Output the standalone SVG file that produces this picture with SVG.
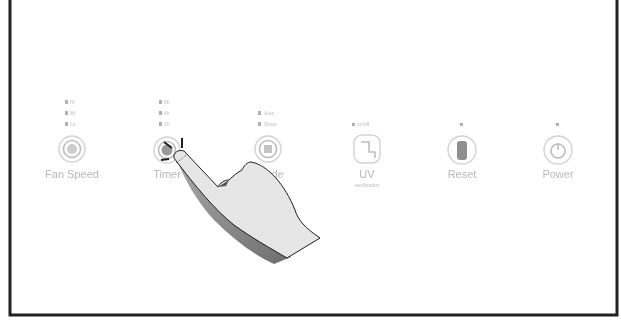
<svg xmlns="http://www.w3.org/2000/svg" width="621" height="320" viewBox="0 0 621 320">
  <defs>
    <style>
      .lbl{font-family:"Liberation Sans",Arial,sans-serif;font-size:11px;fill:#b8b8b8;text-anchor:middle}
      .tiny{font-family:"Liberation Sans",Arial,sans-serif;font-size:5px;fill:#bdbdbd}
      .ring{fill:none;stroke:#d2d2d2;stroke-width:1.4}
      .inner{fill:none;stroke:#bdbdbd;stroke-width:1.6}
      .dot{fill:#b0b0b0}
      .tick{stroke:#1e1e1e;stroke-width:2;stroke-linecap:butt}
    </style>
    <filter id="soft" x="-5%" y="-5%" width="110%" height="110%">
      <feGaussianBlur stdDeviation="0.65"/>
    </filter>
    <linearGradient id="shade" x1="0" y1="0" x2="1" y2="1">
      <stop offset="0" stop-color="#a8a8a8"/>
      <stop offset="1" stop-color="#6e6e6e"/>
    </linearGradient>
  </defs>

  <rect width="621" height="320" fill="#fff"/>
  <!-- outer frame, open at the top -->
  <path d="M10 0V315H617V0" fill="none" stroke="#222" stroke-width="3"/>

  <!-- control panel buttons -->
  <g filter="url(#soft)">
    <g id="btn-fan-speed">
      <rect class="dot" x="65" y="100" width="3" height="4"/><text class="tiny" x="70" y="104">Hi</text>
      <rect class="dot" x="65" y="111" width="3" height="4"/><text class="tiny" x="70" y="115">Mi</text>
      <rect class="dot" x="65" y="122" width="3" height="4"/><text class="tiny" x="70" y="126">Lo</text>
      <circle class="ring" cx="72" cy="149" r="13"/>
      <circle class="inner" cx="72" cy="149" r="8.5"/>
      <circle cx="72" cy="149" r="5" fill="#cdcdcd"/>
      <text class="lbl" x="72" y="178">Fan Speed</text>
    </g>
    <g id="btn-timer">
      <rect class="dot" x="159" y="100" width="3" height="4"/><text class="tiny" x="164" y="104">8h</text>
      <rect class="dot" x="159" y="111" width="3" height="4"/><text class="tiny" x="164" y="115">4h</text>
      <rect class="dot" x="159" y="122" width="3" height="4"/><text class="tiny" x="164" y="126">2h</text>
      <circle class="ring" cx="167" cy="150" r="13"/>
      <circle class="inner" cx="167" cy="150" r="8.5"/>
      <circle cx="167" cy="150" r="5.5" fill="#9a9a9a"/>
      <text class="lbl" x="167" y="178">Timer</text>
    </g>
    <g id="btn-mode">
      <rect class="dot" x="258" y="111" width="3" height="4"/><text class="tiny" x="264" y="115">Auto</text>
      <rect class="dot" x="258" y="122" width="3" height="4"/><text class="tiny" x="264" y="126">Sleep</text>
      <circle class="ring" cx="268" cy="149" r="13"/>
      <circle class="inner" cx="268" cy="149" r="8.5"/>
      <path d="M264 145h8v8h-8z" fill="#c4c4c4"/>
      <text class="lbl" x="270" y="178">Mode</text>
    </g>
    <g id="btn-uv">
      <rect class="dot" x="352" y="123" width="3" height="3"/><text class="tiny" x="357" y="126">on/off</text>
      <rect class="ring" x="354" y="135" width="26" height="28" rx="8"/>
      <path d="M361 142h8v10h6v6" class="inner"/>
      <text class="lbl" x="367" y="178">UV</text>
      <text class="tiny" x="367" y="187" text-anchor="middle">sterilization</text>
    </g>
    <g id="btn-reset">
      <rect class="dot" x="460" y="123" width="3" height="3"/>
      <circle class="ring" cx="462" cy="150" r="14"/>
      <rect x="457" y="141" width="10" height="19" rx="3" fill="#8e8e8e"/>
      <text class="lbl" x="462" y="178">Reset</text>
    </g>
    <g id="btn-power">
      <rect class="dot" x="556" y="123" width="3" height="3"/>
      <circle class="ring" cx="558" cy="150" r="14"/>
      <circle class="inner" cx="558" cy="151" r="7"/>
      <path d="M558 143v7" class="inner"/>
      <text class="lbl" x="558" y="178">Power</text>
    </g>
  </g>

  <!-- press marks round the fingertip -->
  <g id="press-marks">
    <path class="tick" d="M164 142L172 148"/>
    <path class="tick" d="M182 138V148"/>
    <path class="tick" d="M161 160L169 159"/>
  </g>

  <!-- pointing hand -->
  <g id="hand">
    <path d="M177 161C187 184 199 204 214 220C234 240 254 255 274 264L291 257L232 222Z" fill="url(#shade)"/>
    <path d="M174 158C173 153 178 149 184 151L218 187C220 183 224 180 229 180C233 176 238 172 242 170C244 166 247 162 251 162C268 165 285 185 295 210C298 220 305 228 320 238L287 258C270 248 252 238 234 225C215 210 195 186 174 158Z" fill="#e6e6e6" stroke="#1e1e1e" stroke-width="1"/>
    <path d="M218 187C222 184 226 182 229 180L226 186Z" fill="#555"/>
    <path d="M176 163C180 160 184 157 187 154" fill="none" stroke="#555" stroke-width="0.8" stroke-dasharray="2 1.5"/>
  </g>
</svg>
